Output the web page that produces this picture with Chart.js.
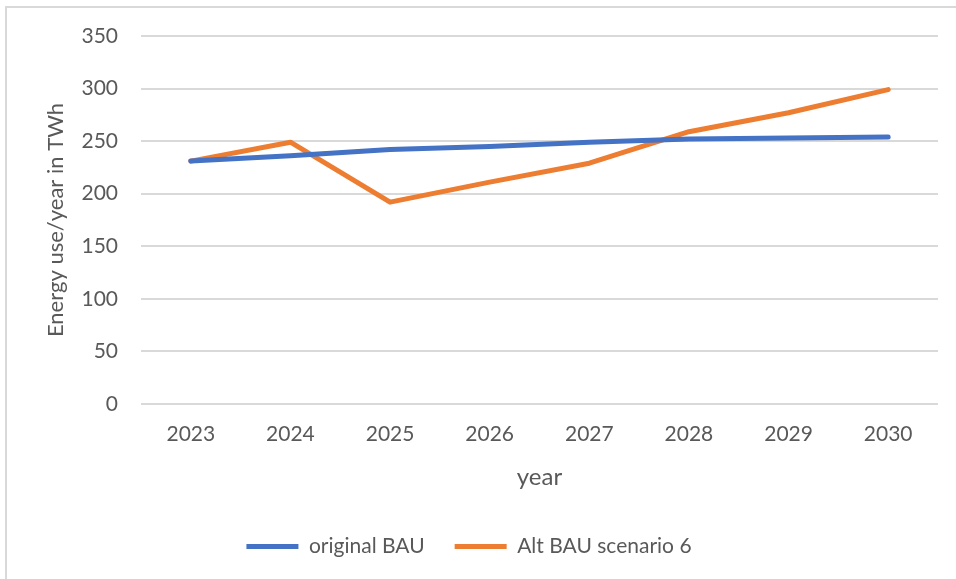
<!DOCTYPE html>
<html>
<head>
<meta charset="utf-8">
<script src="https://cdn.jsdelivr.net/npm/chart.js@4"></script>
<style>
  html, body { margin: 0; padding: 0; background: #fff; overflow: hidden; }
  #wrap { position: relative; width: 956px; height: 579px; }
  #frame { position: absolute; left: 5px; top: 6px; width: 1000px; height: 700px;
           border: 2px solid #d9d9d9; box-sizing: border-box; }
  #chart { position: absolute; left: 0; top: 0; }
</style>
</head>
<body>
<div id="wrap">
  <div id="frame"></div>
  <canvas id="chart" width="956" height="579"></canvas>
</div>
<script>
var years = ["2023", "2024", "2025", "2026", "2027", "2028", "2029", "2030"];
var originalBau = [231, 236, 242, 245, 249, 252, 253, 254];
var altBau6 = [231, 249, 192, 211, 229, 259, 277, 299];
var yTicks = [0, 50, 100, 150, 200, 250, 300, 350];

var textColor = "#595959";
var gridColor = "#d9d9d9";
var fontFamily = "Lato, 'Open Sans', sans-serif";
var fontSize = 21;

Chart.defaults.font.family = fontFamily;
Chart.defaults.color = textColor;

var makeLine = function (label, data, color) {
    return {
        label: label,
        data: data,
        borderColor: color,
        backgroundColor: color,
        borderWidth: 5,
        borderCapStyle: "round",
        borderJoinStyle: "round",
        pointRadius: 0,
        pointHoverRadius: 0,
        pointStyle: "line",
        tension: 0,
        fill: false
    };
};

var ctx = document.getElementById("chart");
var chart = new Chart(ctx, {
    type: "line",
    data: {
        labels: years,
        datasets: [
            makeLine("original BAU", originalBau, "#4472C4"),
            makeLine("Alt BAU scenario 6", altBau6, "#ED7D31")
        ]
    },
    options: {
        responsive: false,
        animation: false,
        layout: { padding: { top: 36, right: 18, bottom: 12, left: 0 } },
        plugins: {
            tooltip: { enabled: false },
            legend: {
                position: "bottom",
                labels: {
                    usePointStyle: true,
                    pointStyleWidth: 52,
                    padding: 30,
                    color: textColor,
                    font: { size: fontSize }
                }
            }
        },
        scales: {
            x: {
                offset: true,
                grid: { display: false, drawTicks: false },
                border: { display: false },
                ticks: { padding: 18, font: { size: fontSize }, color: textColor },
                title: {
                    display: true,
                    text: "year",
                    color: textColor,
                    font: { size: 24 },
                    padding: { top: 0, bottom: 14 }
                },
                afterFit: function (scale) { scale.height = 102; }
            },
            y: {
                min: 0,
                max: 350,
                afterBuildTicks: function (scale) {
                    scale.ticks = yTicks.map(function (v) { return { value: v }; });
                },
                grid: { color: gridColor, lineWidth: 2, drawTicks: false },
                border: { display: false },
                ticks: { padding: 23, font: { size: fontSize }, color: textColor },
                title: {
                    display: true,
                    text: "Energy use/year in TWh",
                    color: textColor,
                    font: { size: 22 },
                    padding: { top: 43, bottom: 0 }
                },
                afterFit: function (scale) { scale.width = 141; }
            }
        }
    }
});
</script>
</body>
</html>
